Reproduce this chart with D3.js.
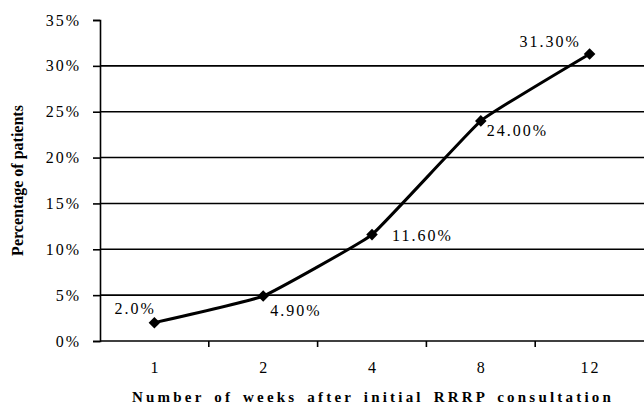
<!DOCTYPE html>
<html>
<head>
<meta charset="utf-8">
<script src="https://cdn.jsdelivr.net/npm/d3@7"></script>
<style>
  body { margin: 0; background: #fff; }
  svg, svg text { font-family: "Times New Roman", "Liberation Serif", "DejaVu Serif", serif; }
  svg { display: block; }
</style>
</head>
<body>
<div id="chart"></div>
<script>
// Chart data
const weeks = ["1", "2", "4", "8", "12"];
const percents = [2.0, 4.9, 11.6, 24.0, 31.3];
const pointLabels = ["2.0%", "4.90%", "11.60%", "24.00%", "31.30%"];
const yTicks = [0, 5, 10, 15, 20, 25, 30, 35];

const width = 644, height = 406;
const margin = { top: 20, right: 0, bottom: 65, left: 100 };
const serif = '"Times New Roman", "Liberation Serif", serif';

const svg = d3.select("#chart").append("svg")
  .attr("width", width)
  .attr("height", height);

const x = d3.scaleBand()
  .domain(weeks)
  .range([margin.left, width - margin.right]);

const y = d3.scaleLinear()
  .domain([0, 35])
  .range([height - margin.bottom, margin.top]);

// Gridlines
svg.append("g")
  .selectAll("line")
  .data(yTicks.filter(d => d > 0 && d < 35))
  .join("line")
  .attr("x1", margin.left).attr("x2", width)
  .attr("y1", d => y(d)).attr("y2", d => y(d))
  .attr("stroke", "#000")
  .attr("stroke-width", 1.6);

// Y axis
const yAxis = svg.append("g")
  .attr("transform", `translate(${margin.left},0)`)
  .call(d3.axisLeft(y).tickValues(yTicks).tickFormat(d => d + "%").tickSize(7).tickPadding(12));
yAxis.attr("font-family", serif);
yAxis.select(".domain").attr("stroke-width", 1.6);
yAxis.selectAll(".tick line").attr("stroke-width", 1.6);
yAxis.selectAll("text")
  .attr("font-size", 16)
  .attr("letter-spacing", 2)
  .attr("fill", "#000");

// X axis with ticks between categories
const xAxisG = svg.append("g")
  .attr("transform", `translate(0,${y(0)})`)
  .attr("font-family", serif);
xAxisG.append("line")
  .attr("x1", margin.left).attr("x2", width)
  .attr("stroke", "#000").attr("stroke-width", 1.6);
xAxisG.selectAll(".sep")
  .data(weeks.slice(1))
  .join("line")
  .attr("class", "sep")
  .attr("x1", d => x(d)).attr("x2", d => x(d))
  .attr("y1", 0).attr("y2", 6)
  .attr("stroke", "#000").attr("stroke-width", 1.6);
xAxisG.selectAll(".lbl")
  .data(weeks)
  .join("text")
  .attr("class", "lbl")
  .attr("x", d => x(d) + x.bandwidth() / 2 + 1)
  .attr("y", 32)
  .attr("text-anchor", "middle")
  .attr("font-size", 16)
  .attr("letter-spacing", 2)
  .text(d => d);

// Smoothed line
const pts = weeks.map((w, i) => [x(w) + x.bandwidth() / 2, y(percents[i])]);
svg.append("path")
  .attr("d", d3.line().curve(d3.curveCardinal.tension(0.72))(pts))
  .attr("fill", "none")
  .attr("stroke", "#000")
  .attr("stroke-width", 3);

// Diamond markers
svg.append("g")
  .selectAll("path")
  .data(pts)
  .join("path")
  .attr("transform", d => `translate(${d[0]},${d[1]})`)
  .attr("d", d3.symbol(d3.symbolDiamond2, 85))
  .attr("fill", "#000");

// Point labels
const labelOffsets = [[-40, -9], [7, 20], [20, 6], [6, 15], [-70, -7]];
svg.append("g")
  .attr("font-family", serif)
  .selectAll("text")
  .data(pts)
  .join("text")
  .attr("x", (d, i) => d[0] + labelOffsets[i][0])
  .attr("y", (d, i) => d[1] + labelOffsets[i][1])
  .attr("font-size", 16)
  .attr("letter-spacing", 2)
  .text((d, i) => pointLabels[i]);

// Axis titles
svg.append("text")
  .attr("x", (margin.left + width) / 2 + 1)
  .attr("y", 402)
  .attr("text-anchor", "middle")
  .attr("font-family", serif)
  .attr("font-size", 15)
  .attr("font-weight", "bold")
  .attr("letter-spacing", 3.2)
  .attr("word-spacing", 3)
  .text("Number of weeks after initial RRRP consultation");

svg.append("text")
  .attr("transform", `translate(23,${(margin.top + y(0)) / 2}) rotate(-90)`)
  .attr("text-anchor", "middle")
  .attr("font-family", serif)
  .attr("font-size", 16)
  .attr("font-weight", "bold")
  .text("Percentage of patients");
</script>
</body>
</html>
